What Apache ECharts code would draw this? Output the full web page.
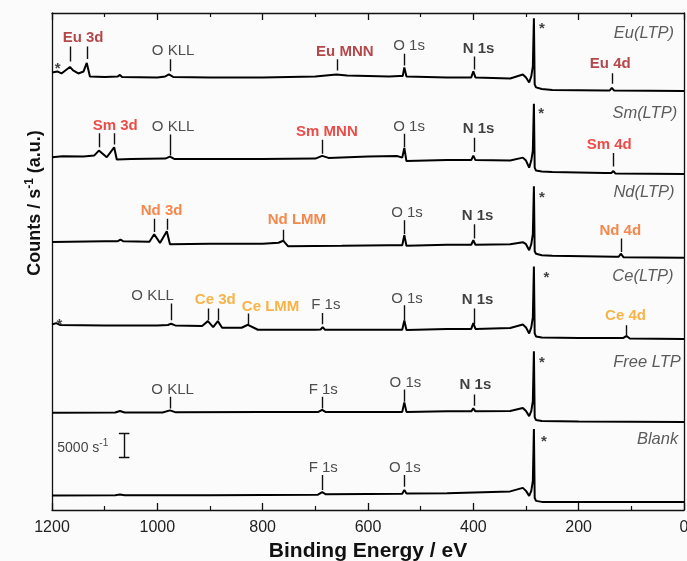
<!DOCTYPE html>
<html>
<head>
<meta charset="utf-8">
<script src="https://cdn.jsdelivr.net/npm/echarts@6/dist/echarts.min.js"></script>
<style>
html,body{margin:0;padding:0;background:#fbfbfb;}
#chart{width:687px;height:561px;}
</style>
</head>
<body>
<div id="chart"></div>
<script>
// ---- data (binding energy eV, counts/s relative to each trace's offset) ----
var sampleNames = ['Eu(LTP)', 'Sm(LTP)', 'Nd(LTP)', 'Ce(LTP)', 'Free LTP', 'Blank'];
var offsets = [87800, 70400, 52900, 35900, 18400, 1700];

var euSpec = [[1200,3760],[1190,3970],[1182,3550],[1166,4910],[1160,4180],[1150,3550],[1140,3970],[1134,5750],[1128,2930],[1100,2820],[1075,2930],[1071,3240],[1067,2820],[1000,2720],[985,2930],[978,3340],[970,2820],[900,2720],[800,2720],[700,2930],[660,3340],[640,3140],[560,2930],[540,3030],[534,3030],[531,4810],[527,2930],[450,2720],[404,2720],[400,3970],[396,2720],[330,2510],[306,3340],[300,2720],[294,1670],[290,2930],[287,5020],[285,15110],[283.5,1250],[281,630],[270,310],[250,100],[150,0],[141,0],[137,520],[133,0],[0,-100]];
var smSpec = [[1200,3410],[1180,3620],[1140,3550],[1120,3760],[1111,4810],[1096,3410],[1082,5500],[1077,2930],[1050,3070],[985,3140],[976,3550],[968,3070],[800,3070],[700,3140],[687,3700],[675,3280],[600,3550],[545,3660],[535,3340],[531,5370],[527,2610],[450,2820],[404,2820],[400,3760],[396,2820],[330,2720],[306,3340],[300,2720],[294,1250],[290,2720],[287,4810],[285,14630],[283.5,1250],[281,630],[270,420],[250,310],[150,100],[138,100],[134,520],[130,0],[0,-100]];
var ndSpec = [[1200,3200],[1100,3340],[1075,3340],[1070,3660],[1065,3340],[1015,3240],[1006,4810],[995,2990],[982,5430],[976,2720],[900,2820],[800,2820],[770,3030],[761,3450],[752,2300],[650,2400],[560,2510],[535,2510],[531,4600],[527,2400],[450,2610],[404,2610],[400,3550],[396,2610],[330,2720],[306,3140],[300,2720],[294,1460],[290,2720],[287,4810],[285,14840],[283.5,1250],[281,730],[270,420],[250,310],[130,100],[124,100],[120,730],[115,0],[0,-100]];
var ceSpec = [[1200,2930],[1192,3200],[1185,2820],[1100,2720],[1000,2720],[980,2820],[974,3070],[966,2720],[915,2610],[904,3620],[894,2360],[885,3620],[877,2240],[840,2240],[828,2860],[809,1820],[700,1820],[690,1880],[686,2360],[682,1820],[600,1820],[535,1820],[531,3760],[527,1780],[450,1990],[404,1990],[400,3200],[396,1990],[330,2190],[306,2930],[300,2300],[294,1050],[290,2300],[287,4390],[285,15050],[283.5,1050],[281,420],[270,210],[200,100],[115,100],[109,520],[103,0],[0,-100]];
var freeSpec = [[1200,1940],[1080,1990],[1071,2300],[1062,1990],[990,1990],[976,2450],[965,2030],[800,2090],[695,2090],[687,2570],[680,2090],[600,2130],[535,2130],[531,4120],[527,2130],[450,2240],[404,2240],[400,2860],[396,2240],[330,2300],[306,2930],[300,2300],[294,1250],[290,2300],[287,4390],[285,14840],[283.5,1050],[281,420],[270,210],[200,100],[0,0]];
var blankSpec = [[1200,1320],[1080,1400],[1071,1530],[1062,1400],[900,1400],[695,1500],[687,2030],[680,1570],[600,1670],[535,1710],[531,2510],[527,1730],[450,1820],[330,2190],[306,2930],[300,2300],[294,1250],[290,2300],[287,4390],[285,15260],[283.5,840],[281,210],[270,0],[0,0]];
var spectra = [euSpec, smSpec, ndSpec, ceSpec, freeSpec, blankSpec];

// peak marker ticks: [energy, low, high] (counts/s)
var peakTicks = [
  [1166,93840,96980],[1134,94400,96980],[976,91810,94320],[659,91960,94320],[531,93000,95450],[399,92170,94890],[137,89180,91400],
  [1111,75930,78860],[1082,76490,78860],[976,74200,78580],[687,74550,77480],[531,75930,78730],[399,74890,77890],[134,71900,74680],
  [1006,58170,60970],[982,58670,60970],[761,56220,58670],[531,57680,60610],[399,56790,59770],[120,53990,56790],
  [974,39710,43200],[904,39710,42160],[885,39710,42160],[828,38670,41110],[687,38870,41240],[531,39710,42850],[399,38870,42160],[109,36580,38670],
  [976,21260,23680],[687,21260,23680],[531,22640,25230],[399,21800,24180],
  [687,4180,7320],[531,4870,7320]
];

// annotation texts: [text, energy, counts/s, style]
var annotations = [
  ['Eu 3d',1141,98800,'eu'],['O KLL',970,96000,'plain'],['Eu MNN',644,95900,'eu'],['O 1s',522,97040,'plain'],['N 1s',390,96500,'bold'],['*',270,100600,'star'],['*',1189,92250,'star'],['Eu(LTP)',19,99630,'name'],['Eu 4d',140,93360,'eu'],
  ['Sm 3d',1080,80470,'sm'],['O KLL',970,80110,'plain'],['Sm MNN',678,79070,'sm'],['O 1s',522,80260,'plain'],['N 1s',390,79780,'bold'],['*',271,82950,'star'],['Sm(LTP)',13,83040,'name'],['Sm 4d',142,76490,'sm'],
  ['Nd 3d',992,62700,'nd'],['Nd LMM',735,60760,'nd'],['O 1s',526,62140,'plain'],['N 1s',392,61450,'bold'],['*',270,65240,'star'],['Nd(LTP)',18,66530,'name'],['Nd 4d',121,58310,'nd'],
  ['*',1186,38760,'star'],['O KLL',1009,44730,'plain'],['Ce 3d',890,43890,'ce'],['Ce LMM',785,42490,'ce'],['F 1s',680,42990,'plain'],['O 1s',526,44250,'plain'],['N 1s',392,43890,'bold'],['*',261,48670,'star'],['Ce(LTP)',20,48910,'name'],['Ce 4d',111,40610,'ce'],
  ['O KLL',971,25230,'plain'],['F 1s',685,25080,'plain'],['O 1s',529,26690,'plain'],['N 1s',396,26130,'bold'],['*',270,30700,'star'],['Free LTP',6,30790,'name'],
  ['F 1s',685,8720,'plain'],['O 1s',530,8840,'plain'],['*',266,14190,'star'],['Blank',11,14780,'name'],['5000 s{sup|-1}',1190,12900,'scale']
];

// scale bar: [energy, low, high, serif half-width eV]
var scaleBar = [1063, 11000, 16000, 10];

var xTicks = [0, 200, 400, 600, 800, 1000, 1200];

// ---- build ----
var FONT = "'Liberation Sans', Arial, Helvetica, sans-serif";
var styles = {
  eu:   {color:'#a31a1e', fontWeight:'bold', fontSize:15},
  sm:   {color:'#e8211c', fontWeight:'bold', fontSize:15},
  nd:   {color:'#f26a21', fontWeight:'bold', fontSize:15},
  ce:   {color:'#f7a11a', fontWeight:'bold', fontSize:15},
  plain:{color:'#222', fontWeight:'normal', fontSize:15},
  bold: {color:'#111', fontWeight:'bold', fontSize:15},
  star: {color:'#111', fontWeight:'bold', fontSize:15},
  name: {color:'#333', fontWeight:'normal', fontStyle:'italic', fontSize:16.5, align:'right'},
  scale:{color:'#111', fontWeight:'normal', fontSize:14, align:'left'}
};

var series = [];
spectra.forEach(function (spec, i) {
  series.push({
    type:'line', name: sampleNames[i], showSymbol:false, symbol:'none', smooth:false,
    lineStyle:{color:'#000', width:2}, z:3,
    data: spec.map(function (p) { return [p[0], p[1] + offsets[i]]; })
  });
});

var segs = peakTicks.map(function (t) { return {coords:[[t[0], t[1]], [t[0], t[2]]]}; });
segs.push({coords:[[scaleBar[0], scaleBar[1]], [scaleBar[0], scaleBar[2]]]});
segs.push({coords:[[scaleBar[0]+scaleBar[3], scaleBar[1]], [scaleBar[0]-scaleBar[3], scaleBar[1]]]});
segs.push({coords:[[scaleBar[0]+scaleBar[3], scaleBar[2]], [scaleBar[0]-scaleBar[3], scaleBar[2]]]});
series.push({
  type:'lines', coordinateSystem:'cartesian2d', polyline:false, silent:true, z:4,
  lineStyle:{color:'#111', width:1.4, opacity:1},
  data: segs
});

series.push({
  type:'scatter', symbolSize:0, silent:true, z:5, clip:false,
  itemStyle:{color:'rgba(0,0,0,0)'},
  data: annotations.map(function (a) {
    var s = styles[a[3]];
    return {
      value:[a[1], a[2]],
      label:{
        show:true, position:'inside', formatter:a[0],
        color:s.color, fontWeight:s.fontWeight, fontStyle:s.fontStyle || 'normal',
        fontSize:s.fontSize, fontFamily:FONT, align:s.align || 'center', verticalAlign:'middle',
        lineHeight:20,
        rich:{sup:{fontSize:10, color:s.color, fontFamily:FONT, verticalAlign:'top', lineHeight:12}}
      }
    };
  })
});

var axisLine = {show:true, onZero:false, lineStyle:{color:'#111', width:1.3}};
var chart = echarts.init(document.getElementById('chart'), null, {renderer:'canvas'});
chart.setOption({
  backgroundColor:'#fbfbfb',
  animation:false,
  grid:{left:52, right:3, top:13, bottom:51, containLabel:false, outerBoundsMode:'none'},
  xAxis:[
    {type:'value', min:xTicks[0], max:xTicks[xTicks.length-1], interval:200, inverse:true, position:'bottom',
     axisLine:axisLine, splitLine:{show:false},
     axisTick:{show:true, inside:true, length:7, lineStyle:{color:'#111', width:1.3}},
     minorTick:{show:true, splitNumber:2, length:4, lineStyle:{color:'#111', width:1.2}},
     axisLabel:{show:true, fontSize:16, color:'#222', margin:10, fontFamily:FONT,
                formatter:function (v) { return String(v); }},
     name:'Binding Energy / eV', nameLocation:'middle', nameGap:27,
     nameTextStyle:{fontSize:21, fontWeight:'bold', color:'#111', fontFamily:FONT}},
    {type:'value', min:xTicks[0], max:xTicks[xTicks.length-1], interval:200, inverse:true, position:'top',
     axisLine:axisLine, splitLine:{show:false},
     axisTick:{show:true, inside:true, length:7, lineStyle:{color:'#111', width:1.3}},
     minorTick:{show:true, splitNumber:2, length:4, lineStyle:{color:'#111', width:1.2}},
     axisLabel:{show:false}}
  ],
  yAxis:[
    {type:'value', min:0, max:104000, position:'left', axisLine:axisLine, axisTick:{show:false}, axisLabel:{show:false}, splitLine:{show:false}},
    {type:'value', min:0, max:104000, position:'right', axisLine:axisLine, axisTick:{show:false}, axisLabel:{show:false}, splitLine:{show:false}}
  ],
  graphic:[{
    type:'text', x:35, y:203, rotation:Math.PI/2, silent:true,
    style:{text:'Counts / s{sup|-1} (a.u.)', fill:'#111', fontSize:18, fontWeight:'bold', fontFamily:FONT,
           align:'center', verticalAlign:'middle', lineHeight:22,
           rich:{sup:{fontSize:12, fontWeight:'bold', fill:'#111', fontFamily:FONT, verticalAlign:'top', lineHeight:14}}}
  }],
  series: series
});
</script>
</body>
</html>
